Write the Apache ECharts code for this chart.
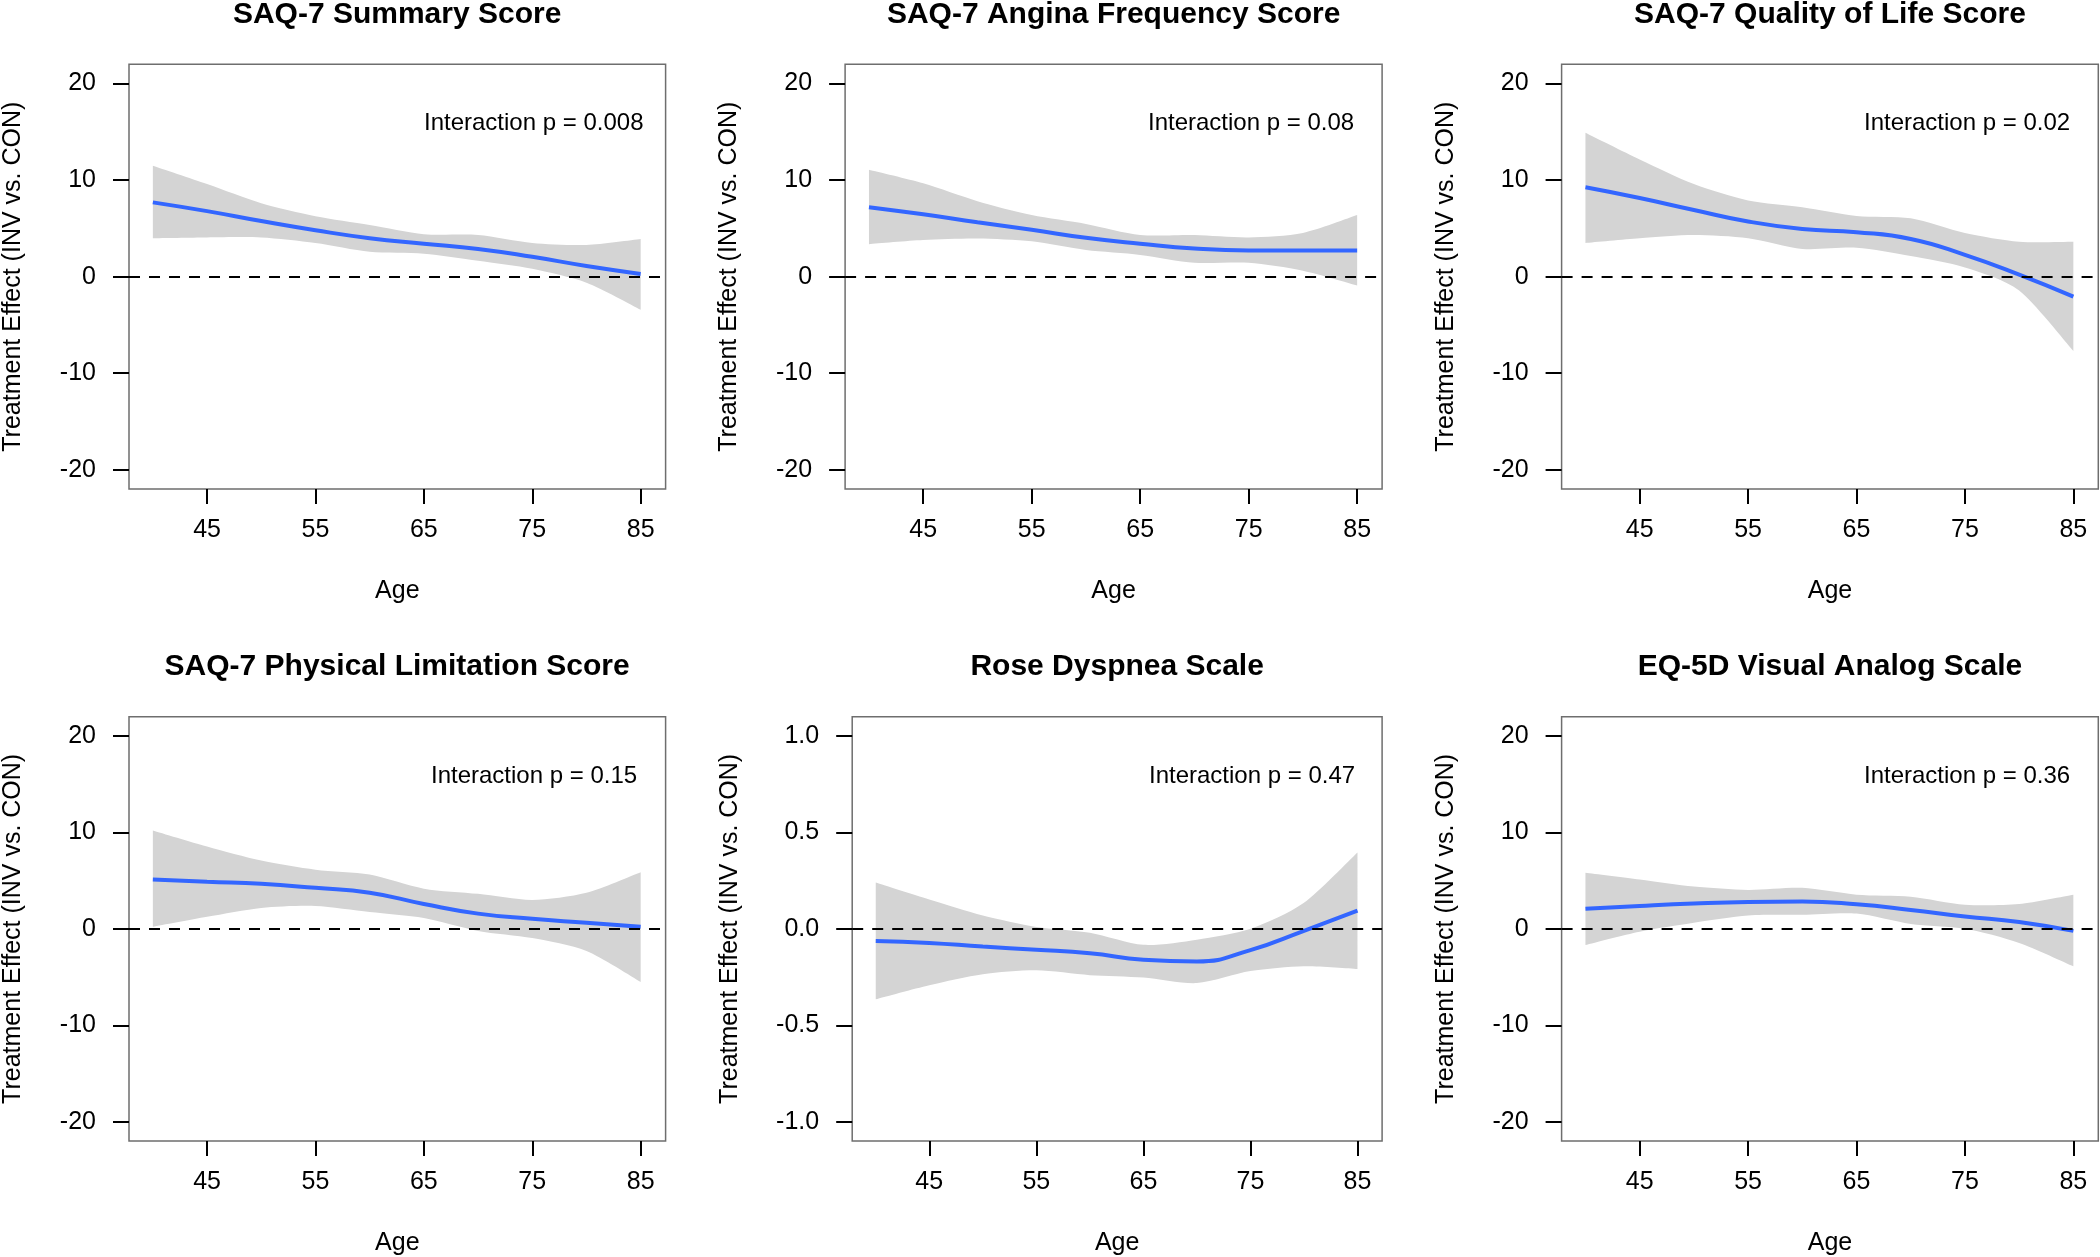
<!DOCTYPE html>
<html>
<head>
<meta charset="utf-8">
<script src="https://cdn.jsdelivr.net/npm/echarts@6/dist/echarts.min.js"></script>
<style>
html,body{margin:0;padding:0;background:#fff;}
#chart{width:2100px;height:1257px;}
</style>
</head>
<body>
<div id="chart"></div>
<script>
// ---- data ----
const ages = [40, 45, 50, 55, 60, 65, 70, 75, 80, 85];
const xTicks = [45, 55, 65, 75, 85];
const yTicksScore = [-20, -10, 0, 10, 20];
const yTicksRose = [-1, -0.5, 0, 0.5, 1];

const titles = [
  'SAQ-7 Summary Score',
  'SAQ-7 Angina Frequency Score',
  'SAQ-7 Quality of Life Score',
  'SAQ-7 Physical Limitation Score',
  'Rose Dyspnea Scale',
  'EQ-5D Visual Analog Scale'
];
const pLabels = [
  'Interaction p = 0.008',
  'Interaction p = 0.08',
  'Interaction p = 0.02',
  'Interaction p = 0.15',
  'Interaction p = 0.47',
  'Interaction p = 0.36'
];

const fit1 = [7.70, 6.79, 5.76, 4.81, 3.99, 3.42, 2.88, 2.06, 1.11, 0.29];
const upper1 = [11.48, 9.59, 7.60, 6.26, 5.35, 4.40, 4.32, 3.50, 3.29, 3.91];
const lower1 = [3.99, 4.07, 4.07, 3.50, 2.59, 2.39, 1.65, 0.82, -0.62, -3.42];

const fit2 = [7.20, 6.46, 5.64, 4.86, 4.03, 3.42, 2.92, 2.72, 2.72, 2.72];
const upper2 = [11.07, 9.67, 7.82, 6.38, 5.47, 4.32, 4.32, 4.07, 4.53, 6.38];
const lower2 = [3.37, 3.79, 3.95, 3.66, 2.76, 2.26, 1.44, 1.44, 0.62, -0.91];

const fit3 = [9.26, 8.15, 6.91, 5.72, 4.94, 4.61, 3.91, 2.26, 0.21, -2.06];
const upper3 = [14.90, 12.14, 9.59, 7.90, 7.20, 6.30, 6.05, 4.53, 3.62, 3.62];
const lower3 = [3.50, 3.99, 4.32, 3.99, 2.88, 3.00, 2.14, 0.95, -1.44, -7.70];

const fit4 = [5.13, 4.88, 4.67, 4.25, 3.75, 2.58, 1.58, 1.04, 0.63, 0.21];
const upper4 = [10.21, 8.54, 7.08, 6.13, 5.63, 4.17, 3.63, 3.00, 3.75, 5.88];
const lower4 = [0.21, 1.25, 2.17, 2.38, 1.75, 1.13, -0.21, -0.96, -2.29, -5.50];

const fit5 = [-0.063, -0.073, -0.092, -0.108, -0.127, -0.160, -0.169, -0.110, -0.010, 0.094];
const upper5 = [0.240, 0.152, 0.069, 0.010, -0.020, -0.083, -0.056, 0.000, 0.135, 0.396];
const lower5 = [-0.365, -0.292, -0.235, -0.215, -0.240, -0.252, -0.281, -0.219, -0.194, -0.208];

const fit6 = [2.08, 2.38, 2.63, 2.79, 2.83, 2.54, 1.96, 1.29, 0.71, -0.21];
const upper6 = [5.83, 5.13, 4.38, 4.04, 4.25, 3.54, 3.33, 2.50, 2.58, 3.54];
const lower6 = [-1.67, -0.29, 0.63, 1.38, 1.46, 1.58, 0.50, 0.00, -1.46, -3.88];

const fits = [fit1, fit2, fit3, fit4, fit5, fit6];
const uppers = [upper1, upper2, upper3, upper4, upper5, upper6];
const lowers = [lower1, lower2, lower3, lower4, lower5, lower6];

// ---- layout ----
const FONT = 'Liberation Sans, Arial, sans-serif';
const panels = [
  {left: 128.7, top: 64.3, width: 536.9, ann: 424},
  {left: 845.1, top: 64.3, width: 537.0, ann: 1148},
  {left: 1561.6, top: 64.3, width: 536.7, ann: 1864},
  {left: 128.7, top: 716.7, width: 536.9, ann: 431},
  {left: 852.2, top: 716.7, width: 529.9, ann: 1149},
  {left: 1561.6, top: 716.7, width: 536.7, ann: 1864}
];
const H = 424.8;

// Catmull-Rom spline through screen points -> SVG path segments
function splinePath(pts) {
  let d = '';
  const n = pts.length;
  const T = 0.8;
  for (let k = 0; k < n - 1; k++) {
    const p0 = pts[Math.max(k - 1, 0)], p1 = pts[k], p2 = pts[k + 1], p3 = pts[Math.min(k + 2, n - 1)];
    const c1x = p1[0] + (p2[0] - p0[0]) / 6 * T, c1y = p1[1] + (p2[1] - p0[1]) / 6 * T;
    const c2x = p2[0] - (p3[0] - p1[0]) / 6 * T, c2y = p2[1] - (p3[1] - p1[1]) / 6 * T;
    d += ' C' + c1x + ' ' + c1y + ' ' + c2x + ' ' + c2y + ' ' + p2[0] + ' ' + p2[1];
  }
  return d;
}

const grid = [], xAxis = [], yAxis = [], series = [], title = [];
panels.forEach((p, i) => {
  const rose = (i === 4);
  grid.push({left: p.left, top: p.top, width: p.width, height: H, show: true,
    borderColor: '#6e6e6e', borderWidth: 1.5, backgroundColor: 'transparent'});
  xAxis.push({
    type: 'value', gridIndex: i, min: 37.8, max: 87.3,
    name: 'Age', nameLocation: 'middle', nameGap: 90,
    nameTextStyle: {fontFamily: FONT, fontSize: 25, color: '#000'},
    axisLine: {show: false, onZero: false}, splitLine: {show: false},
    axisTick: {show: true, length: 15, inside: false, customValues: xTicks,
      lineStyle: {color: '#000', width: 2}},
    axisLabel: {customValues: xTicks, margin: 29, fontFamily: FONT, fontSize: 25, color: '#000'}
  });
  const yt = rose ? yTicksRose : yTicksScore;
  const lim = rose ? 1.1 : 22;
  yAxis.push({
    type: 'value', gridIndex: i, min: -lim, max: lim,
    name: 'Treatment Effect (INV vs. CON)', nameLocation: 'middle', nameRotate: 90,
    nameGap: rose ? 110 : 103,
    nameTextStyle: {fontFamily: FONT, fontSize: 25, color: '#000'},
    axisLine: {show: false, onZero: false}, splitLine: {show: false},
    axisTick: {show: true, length: 16, inside: false, customValues: yt,
      lineStyle: {color: '#000', width: 2}},
    axisLabel: {customValues: yt, margin: 33, fontFamily: FONT, fontSize: 25, color: '#000',
      formatter: v => rose ? Number(v).toFixed(1) : String(v)}
  });
  title.push({
    text: titles[i], left: p.left + p.width / 2, top: p.top - 49.6,
    textAlign: 'center', textVerticalAlign: 'middle', padding: 0,
    textStyle: {fontFamily: FONT, fontSize: 30, fontWeight: 'bold', color: '#000'}
  });
  title.push({
    text: pLabels[i], left: p.ann, top: p.top + 59.5,
    textAlign: 'left', textVerticalAlign: 'middle', padding: 0,
    textStyle: {fontFamily: FONT, fontSize: 24, fontWeight: 'normal', color: '#000'}
  });
  const lo = lowers[i], up = uppers[i], ft = fits[i];
  // confidence band drawn through the axis scales
  series.push({
    type: 'custom', xAxisIndex: i, yAxisIndex: i, silent: true, z: 1,
    data: [[ages[0], lo[0]]], encode: {x: 0, y: 1},
    renderItem: (params, api) => {
      const U = ages.map((a, k) => api.coord([a, up[k]]));
      const L = ages.map((a, k) => api.coord([a, lo[k]])).reverse();
      let d = 'M' + U[0][0] + ' ' + U[0][1] + splinePath(U) +
        ' L' + L[0][0] + ' ' + L[0][1] + splinePath(L) + ' Z';
      return {type: 'path', shape: {pathData: d}, style: {fill: '#d4d4d4', stroke: null}};
    }
  });
  series.push({
    type: 'line', xAxisIndex: i, yAxisIndex: i,
    data: ages.map((a, k) => [a, ft[k]]), showSymbol: false, symbol: 'none', smooth: 0.5,
    lineStyle: {color: '#3366ff', width: 4}, silent: true, z: 3,
    markLine: {silent: true, symbol: 'none', label: {show: false}, z: 4,
      lineStyle: {color: '#000', width: 2, type: [11, 9]},
      data: [{yAxis: 0}]}
  });
});

const chart = echarts.init(document.getElementById('chart'), null, {renderer: 'canvas'});
chart.setOption({animation: false, backgroundColor: '#fff', title, grid, xAxis, yAxis, series});
</script>
</body>
</html>
